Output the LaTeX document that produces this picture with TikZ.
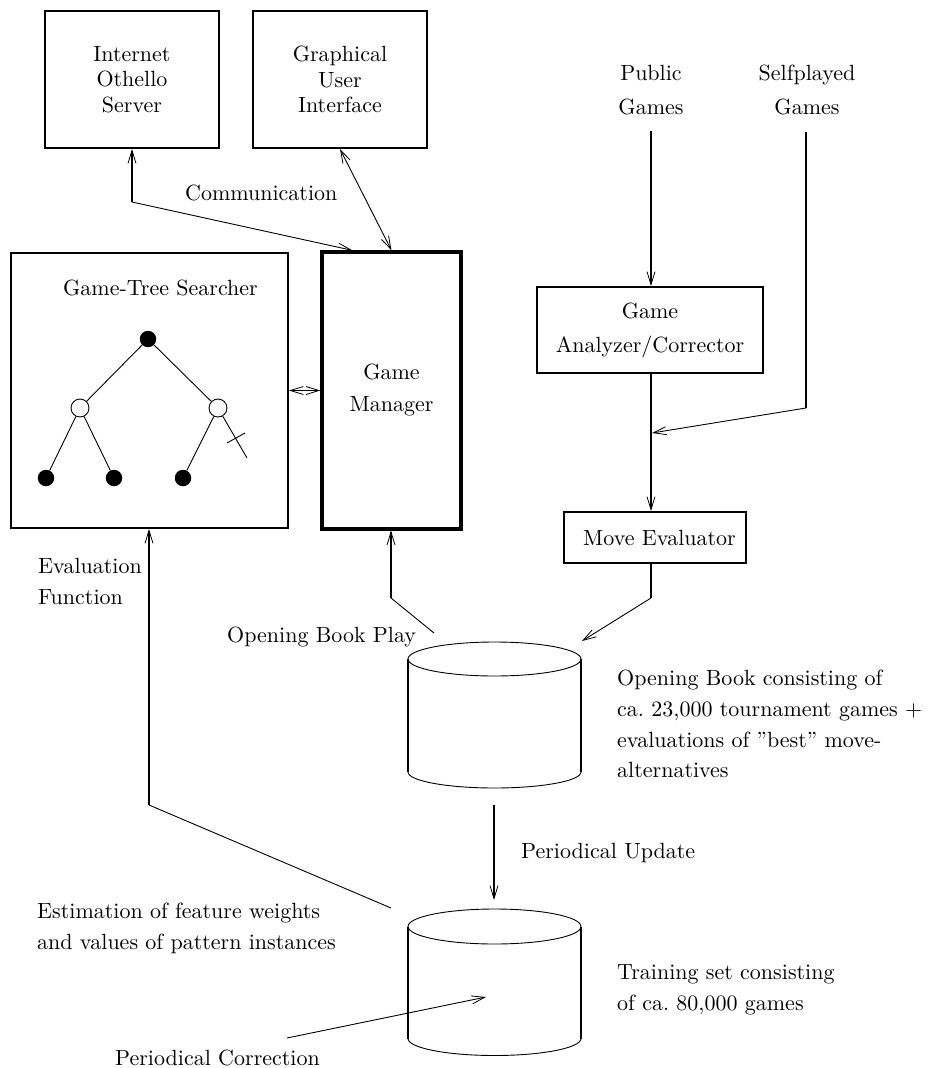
\documentclass[tikz,border=0pt]{standalone}
\usepackage{fontspec}
\setmainfont{lmroman10-regular}[Extension=.otf]
\usetikzlibrary{arrows.meta,calc}
\tikzset{
  fz/.style={font=\fontsize{22}{#1}\selectfont},
  box/.style={draw, line width=2pt, inner sep=0pt, align=center, fz=25.5},
  txt/.style={inner sep=0pt, align=left, fz=31},
  vconn/.style={line width=1.8pt},
  dconn/.style={line width=0.9pt},
  arr/.style={-{Straight Barb[length=13pt,width=8pt,line width=0.8pt]}},
  darr/.style={{Straight Barb[length=13pt,width=8pt,line width=0.8pt]}-{Straight Barb[length=13pt,width=8pt,line width=0.8pt]}},
  blk/.style={circle, fill=black, minimum size=16.5pt, inner sep=0pt},
  wht/.style={circle, draw, fill=white, line width=0.9pt, minimum size=18pt, inner sep=0pt},
  edge/.style={line width=0.9pt},
  rim/.style={line width=0.9pt},
  side/.style={line width=1.8pt}
}
\begin{document}
\begin{tikzpicture}[x=1pt,y=-1pt]
\useasboundingbox[fill=white] (0,0) rectangle (930,1068);

% boxes
\node[box, minimum width=174pt, minimum height=137pt] (ios) at (132,79.5) {Internet\\Othello\\Server};
\node[box, minimum width=174pt, minimum height=137pt] (gui) at (340,79.5) {Graphical\\User\\Interface};
\node[box, minimum width=277pt, minimum height=275pt] (gts) at (149.5,390.5) {};
\node[box, line width=3.3pt, minimum width=139pt, minimum height=277pt, fz=32] (gm) at (391.5,390.5) {Game\\Manager};
\node[box, minimum width=226pt, minimum height=86pt, fz=34] (gac) at (650,330) {Game\\Analyzer/Corrector};
\node[box, minimum width=182pt, minimum height=51pt] (me) at (655,537.5) {\hspace*{9pt}Move Evaluator};

% labels
\node[txt, anchor=base west] (gtsl) at (63,295) {Game-Tree Searcher};
\node[txt, anchor=north, align=center, fz=34] (pub) at (651,64.7) {Public\\Games};
\node[txt, anchor=north, align=center, fz=34] (self) at (807,64.7) {Selfplayed\\Games};
\node[txt, anchor=base west] (comm) at (185,200) {Communication};
\node[txt, anchor=north west] (evf) at (38,558) {Evaluation\\Function};
\node[txt, anchor=base west] (obp) at (227,642) {Opening Book Play};
\node[txt, anchor=north west, fz=30.7] (obd) at (617,670) {Opening Book consisting of\\ca.\ 23,000 tournament games +\\evaluations of ''best'' move-\\alternatives};
\node[txt, anchor=base west] (pu) at (521,858) {Periodical Update};
\node[txt, anchor=north west] (est) at (37,903) {Estimation of feature weights\\and values of pattern instances};
\node[txt, anchor=north west] (trn) at (617,964) {Training set consisting\\of ca.\ 80,000 games};
\node[txt, anchor=base west] (pc) at (115,1065) {Periodical Correction};

% game tree
\node[blk] (t0) at (148,339) {};
\node[wht] (t1) at (80,408) {};
\node[wht] (t2) at (218,408) {};
\node[blk] (t3) at (46,478) {};
\node[blk] (t4) at (114,478) {};
\node[blk] (t5) at (183,478) {};
\coordinate (tc) at (247,458);
\draw[edge] (t0) -- (t1);
\draw[edge] (t0) -- (t2);
\draw[edge] (t1) -- (t3);
\draw[edge] (t1) -- (t4);
\draw[edge] (t2) -- (t5);
\draw[edge] (t2) -- (tc);
\draw[edge] (227,443) -- (245,433);

% cylinders
\draw[rim] (494.5,659) ellipse [x radius=86.5, y radius=17];
\draw[side] (408,659) -- (408,772);
\draw[side] (581,659) -- (581,772);
\draw[rim] (408,772) arc[start angle=180, end angle=0, x radius=86.5, y radius=16];

\draw[rim] (494.5,926.5) ellipse [x radius=86.5, y radius=17.5];
\draw[side] (408,926.5) -- (408,1038.5);
\draw[side] (581,926.5) -- (581,1038.5);
\draw[rim] (408,1038.5) arc[start angle=180, end angle=0, x radius=86.5, y radius=17];

% coordinates
\coordinate (cA) at (132,202);
\coordinate (cB) at ($(gm.north west)+(32,0)$);
\coordinate (pA) at (651,131);
\coordinate (sA) at (806,132);
\coordinate (sB) at (806,408);
\coordinate (sC) at (652,433);
\coordinate (mB) at (651,598);
\coordinate (c1) at (582,641);
\coordinate (oA) at (434,633);
\coordinate (oB) at (391,598);
\coordinate (eA) at (391,908);
\coordinate (eB) at (149,805);
\coordinate (uA) at (494,805);
\coordinate (c2) at (494,900);
\coordinate (pA2) at (287,1038);
\coordinate (c2in) at (486,997);

% connectors
\draw[vconn, arr] (cA) -- (ios.south);
\draw[dconn, arr] (cA) -- (cB);
\draw[dconn, darr] (gui.south) -- (gm.north);
\draw[line width=1.3pt, darr] (gts.east) -- (gm.west);
\draw[vconn, arr] (pA) -- (pA |- gac.north);
\draw[vconn, arr] (pA |- gac.south) -- (pA |- me.north);
\draw[vconn] (sA) -- (sB);
\draw[dconn, arr] (sB) -- (sC);
\draw[vconn] (pA |- me.south) -- (mB);
\draw[dconn, arr] (mB) -- (c1);
\draw[dconn] (oA) -- (oB);
\draw[vconn, arr] (oB) -- (oB |- gm.south);
\draw[dconn] (eA) -- (eB);
\draw[vconn, arr] (eB) -- (eB |- gts.south);
\draw[vconn, arr] (uA) -- (c2);
\draw[dconn, arr] (pA2) -- (c2in);
\end{tikzpicture}
\end{document}
